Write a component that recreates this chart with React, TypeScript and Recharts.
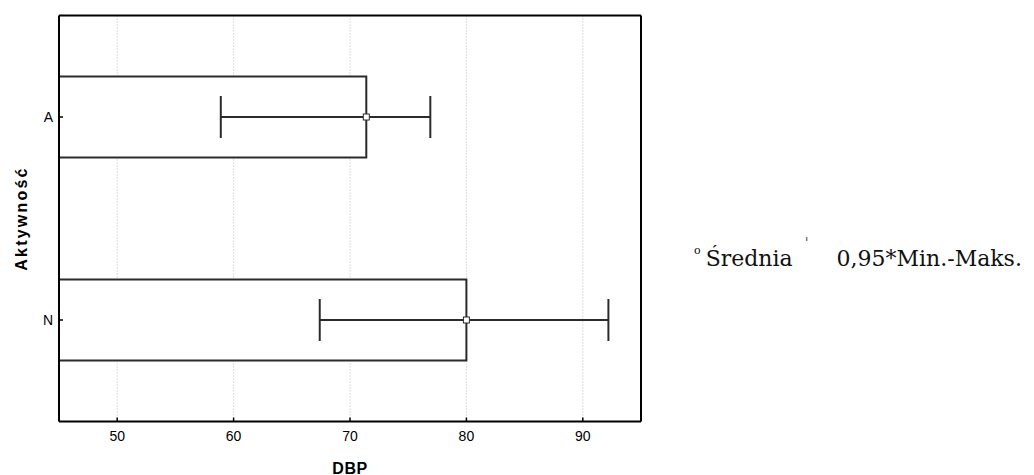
import { BarChart, Bar, XAxis, YAxis, CartesianGrid, ErrorBar } from 'recharts';

// DBP by activity group: mean with 0,95*min-max whiskers
const groups = ['A', 'N'];
const means = [71.4, 80.0];
const lows = [58.9, 67.4];
const highs = [76.9, 92.2];
const xTicks = [50, 60, 70, 80, 90];

const data = groups.map((g, i) => ({
  group: g,
  mean: means[i],
  range: [means[i] - lows[i], highs[i] - means[i]],
}));

const INK = '#2b2b2b';
const SANS = '"Liberation Sans", Arial, sans-serif';
const SERIF = '"DejaVu Serif", serif';

function MeanMarker(props: any) {
  const { x, y, width, height } = props;
  const cx = x + width;
  const cy = y + height / 2;
  return <rect x={cx - 3} y={cy - 3} width={6} height={6} fill="#fff" stroke={INK} strokeWidth={1} />;
}

export default function App() {
  return (
    <div style={{ position: 'absolute', left: 0, top: 0, width: 1034, height: 475, background: '#fff' }}>
      <BarChart
        width={1034}
        height={475}
        data={data}
        layout="vertical"
        margin={{ top: 14.5, right: 392, bottom: 0, left: 0 }}
      >
        <CartesianGrid horizontal={false} stroke="#bdbdbd" strokeDasharray="1 2" />
        <XAxis
          type="number"
          dataKey="mean"
          domain={[45, 95]}
          ticks={xTicks}
          height={53.5}
          axisLine={{ stroke: '#000', strokeWidth: 2 }}
          tickLine={{ stroke: '#000', strokeWidth: 1.5 }}
          tickSize={-4}
          tickMargin={14}
          tick={{ fill: '#000', fontSize: 14, fontFamily: SANS }}
          label={{
            content: ({ viewBox }: any) => (
              <text
                x={viewBox.x + viewBox.width / 2}
                y={473.5}
                textAnchor="middle"
                fontFamily={SANS}
                fontWeight="bold"
                fontSize={16}
                letterSpacing={0.5}
                fill="#000"
              >
                DBP
              </text>
            ),
          }}
        />
        <XAxis
          xAxisId="top"
          orientation="top"
          type="number"
          domain={[45, 95]}
          ticks={xTicks}
          height={1}
          axisLine={{ stroke: '#000', strokeWidth: 2 }}
          tickLine={{ stroke: '#000', strokeWidth: 1.5 }}
          tickSize={-4}
          tick={false}
        />
        <YAxis
          type="category"
          dataKey="group"
          width={59}
          axisLine={{ stroke: '#000', strokeWidth: 2 }}
          tickLine={{ stroke: '#000', strokeWidth: 1.5 }}
          tickSize={-4}
          tickMargin={10}
          tick={{ fill: '#000', fontSize: 14, fontFamily: SANS }}
          label={{
            content: ({ viewBox }: any) => (
              <text
                transform={`translate(27, ${viewBox.y + viewBox.height / 2}) rotate(-90)`}
                textAnchor="middle"
                fontFamily={SANS}
                fontWeight="bold"
                fontSize={16}
                letterSpacing={2.2}
                fill="#000"
              >
                Aktywność
              </text>
            ),
          }}
        />
        <YAxis
          yAxisId="right"
          orientation="right"
          type="category"
          dataKey="group"
          width={1}
          axisLine={{ stroke: '#000', strokeWidth: 2 }}
          tickLine={{ stroke: '#000', strokeWidth: 1.5 }}
          tickSize={-4}
          tick={false}
        />
        <Bar
          dataKey="mean"
          barSize={81}
          fill="#fff"
          stroke={INK}
          strokeWidth={2}
          isAnimationActive={false}
          label={(props: any) => <MeanMarker {...props} />}
        >
          <ErrorBar dataKey="range" direction="x" width={21} stroke={INK} strokeWidth={2} />
        </Bar>
      </BarChart>
      <div
        style={{
          position: 'absolute',
          left: 694,
          top: 244,
          fontFamily: SERIF,
          fontSize: 22,
          color: '#111',
          whiteSpace: 'nowrap',
          lineHeight: '30px',
        }}
      >
        <span style={{ fontSize: 11, verticalAlign: 'top', position: 'relative', top: -8 }}>o</span>
        <span style={{ marginLeft: 5 }}>Średnia</span>
        <span style={{ fontSize: 14, color: '#555', verticalAlign: 'top', position: 'relative', top: -16, marginLeft: 12 }}>'</span>
        <span style={{ marginLeft: 28 }}>0,95*Min.-Maks.</span>
      </div>
    </div>
  );
}
